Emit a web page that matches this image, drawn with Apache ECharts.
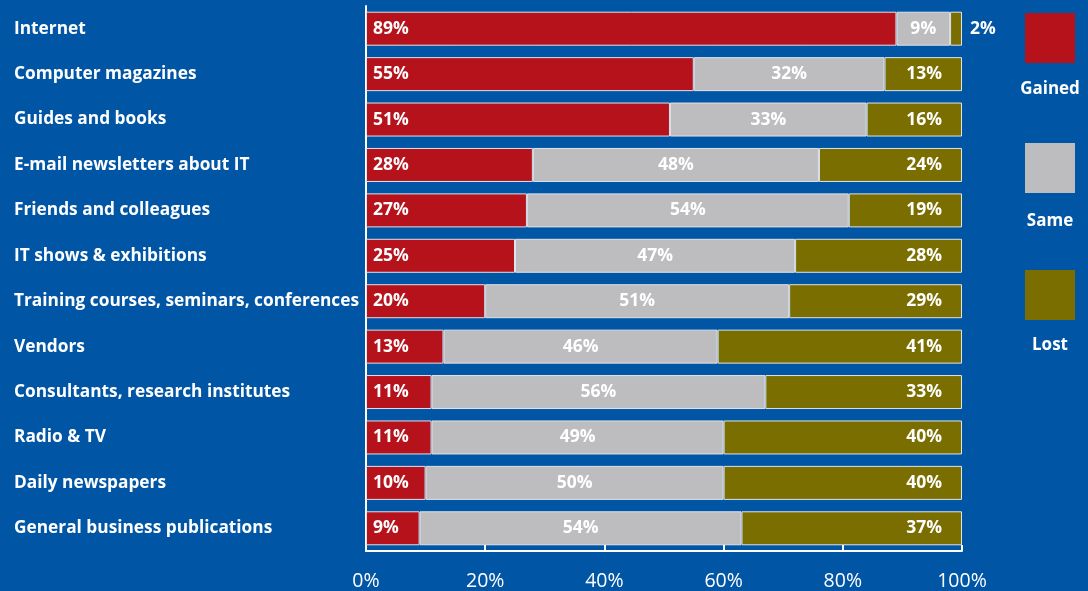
<!DOCTYPE html>
<html>
<head>
<meta charset="utf-8">
<script src="https://cdn.jsdelivr.net/npm/echarts@6/dist/echarts.min.js"></script>
<style>
  html, body { margin: 0; padding: 0; background: #0055a4; }
  #chart { width: 1088px; height: 591px; }
</style>
</head>
<body>
<div id="chart"></div>
<script>
// Information sources and whether their importance was gained, unchanged or lost
const categories = [
  'Internet',
  'Computer magazines',
  'Guides and books',
  'E-mail newsletters about IT',
  'Friends and colleagues',
  'IT shows & exhibitions',
  'Training courses, seminars, conferences',
  'Vendors',
  'Consultants, research institutes',
  'Radio & TV',
  'Daily newspapers',
  'General business publications'
];
const gained = [89, 55, 51, 28, 27, 25, 20, 13, 11, 11, 10, 9];
const same   = [9, 32, 33, 48, 54, 47, 51, 46, 56, 49, 50, 54];
const lost   = [2, 13, 16, 24, 19, 28, 29, 41, 33, 40, 40, 37];
const xTicks = [0, 20, 40, 60, 80, 100];

const seriesNames = ['Gained', 'Same', 'Lost'];
const colors = ['#b5121b', '#bdbdbf', '#7a6e00'];

const FONT = '"Open Sans", sans-serif';
const labelStyle = { color: '#ffffff', fontFamily: FONT, fontWeight: 'bold', fontSize: 17.5, formatter: '{c}%' };
const barBorder = { borderColor: '#dfe3ea', borderWidth: 1 };

const chart = echarts.init(document.getElementById('chart'), null, { renderer: 'canvas' });

const grid = { left: 366, right: 126, top: 6, bottom: 40 };

// Legend: swatches with their names underneath
const legendTop = [13, 143, 270];
const legendTextY = [89, 221, 345];
const graphic = [];
seriesNames.forEach((name, i) => {
  graphic.push({
    type: 'rect', x: 1025, y: legendTop[i],
    shape: { width: 50, height: 50 }, style: { fill: colors[i] }
  });
  graphic.push({
    type: 'text', x: 1050, y: legendTextY[i],
    style: { text: name, fill: '#ffffff', font: 'bold 17px ' + FONT, align: 'center', verticalAlign: 'middle' }
  });
});

chart.setOption({
  animation: false,
  backgroundColor: '#0055a4',
  grid: grid,
  graphic: graphic,
  xAxis: {
    type: 'value', min: 0, max: 100, interval: 20,
    axisLine: { show: true, lineStyle: { color: '#ffffff', width: 2 } },
    axisTick: { show: true, inside: true, length: 6, lineStyle: { color: '#ffffff', width: 2 } },
    splitLine: { show: false },
    axisLabel: {
      color: '#ffffff', fontFamily: FONT, fontSize: 19.5, margin: 20,
      formatter: v => xTicks.indexOf(v) >= 0 ? v + '%' : ''
    }
  },
  yAxis: {
    type: 'category', data: categories, inverse: true,
    axisLine: { show: true, lineStyle: { color: '#ffffff', width: 2 } },
    axisTick: { show: false },
    axisLabel: {
      color: '#ffffff', fontFamily: FONT, fontWeight: 'bold', fontSize: 17.3,
      align: 'left', margin: 352, padding: [4, 0, 0, 0]
    }
  },
  series: [
    {
      name: 'Gained', type: 'bar', stack: 'total', data: gained, barWidth: 34,
      itemStyle: Object.assign({ color: colors[0] }, barBorder),
      label: Object.assign({ show: true, position: 'insideLeft', distance: 7 }, labelStyle)
    },
    {
      name: 'Same', type: 'bar', stack: 'total', data: same, barWidth: 34,
      itemStyle: Object.assign({ color: colors[1] }, barBorder),
      label: Object.assign({ show: true, position: 'inside' }, labelStyle)
    },
    {
      name: 'Lost', type: 'bar', stack: 'total', barWidth: 34,
      data: lost.map(v => v < 5
        ? { value: v, label: { position: 'right', distance: 8 } }
        : v),
      itemStyle: Object.assign({ color: colors[2] }, barBorder),
      label: Object.assign({ show: true, position: 'insideRight', distance: 20 }, labelStyle)
    }
  ]
});
</script>
</body>
</html>
